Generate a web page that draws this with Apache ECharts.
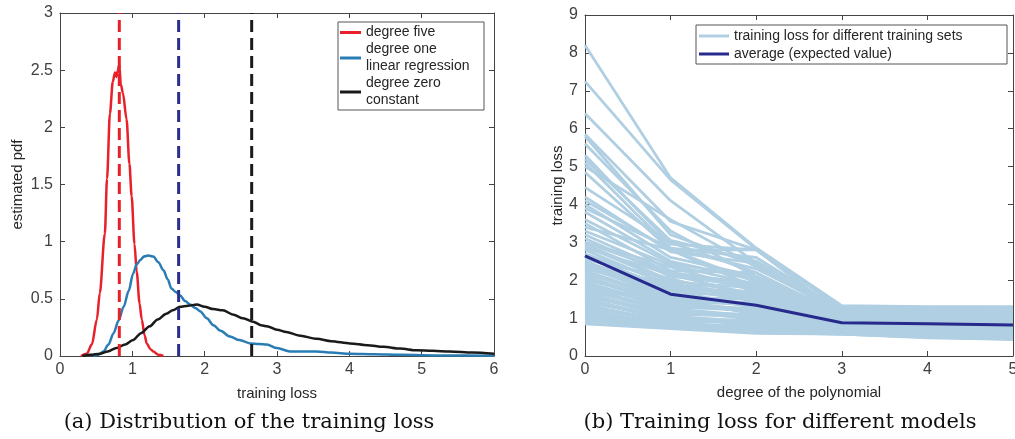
<!DOCTYPE html>
<html>
<head>
<meta charset="utf-8">
<script src="https://cdn.jsdelivr.net/npm/echarts@6/dist/echarts.min.js"></script>
<style>
html, body { margin: 0; padding: 0; background: #fff; }
#chart { width: 1015px; height: 439px; }
</style>
</head>
<body>
<div id="chart"></div>
<script>
// (a) estimated pdf of training loss, [loss, density]
const degreeFive = [[0.29,0],[0.37,0.02],[0.44,0.10],[0.51,0.32],[0.55,0.55],[0.62,1.07],[0.65,1.55],[0.69,2.12],[0.73,2.40],[0.76,2.48],[0.78,2.44],[0.80,2.50],[0.82,2.55],[0.84,2.38],[0.87,2.30],[0.92,2.07],[0.96,1.68],[0.99,1.40],[1.03,0.98],[1.06,0.74],[1.10,0.46],[1.13,0.32],[1.17,0.18],[1.20,0.11],[1.25,0.06],[1.29,0.04],[1.36,0.01],[1.43,0]];
const degreeOne = [[0.46,0],[0.53,0.01],[0.60,0.04],[0.67,0.10],[0.74,0.20],[0.81,0.31],[0.88,0.43],[0.95,0.57],[1.01,0.72],[1.06,0.80],[1.11,0.84],[1.16,0.87],[1.22,0.88],[1.29,0.87],[1.36,0.82],[1.43,0.75],[1.49,0.67],[1.54,0.59],[1.60,0.56],[1.66,0.53],[1.73,0.48],[1.80,0.45],[1.87,0.42],[1.94,0.39],[2.03,0.33],[2.12,0.27],[2.22,0.22],[2.35,0.17],[2.48,0.14],[2.63,0.11],[2.75,0.105],[2.86,0.10],[3.0,0.07],[3.18,0.04],[3.35,0.04],[3.55,0.04],[3.75,0.03],[4.01,0.02],[4.35,0.015],[4.70,0.01],[5.3,0.005],[6.0,0.003]];
const degreeZero = [[0.31,0],[0.42,0.01],[0.55,0.02],[0.66,0.04],[0.78,0.07],[0.90,0.10],[1.01,0.14],[1.12,0.20],[1.24,0.26],[1.35,0.32],[1.47,0.37],[1.56,0.40],[1.66,0.43],[1.77,0.44],[1.89,0.45],[2.0,0.43],[2.12,0.41],[2.25,0.40],[2.40,0.36],[2.53,0.33],[2.67,0.30],[2.78,0.27],[2.86,0.26],[3.0,0.23],[3.13,0.21],[3.3,0.18],[3.55,0.15],[3.75,0.13],[4.01,0.11],[4.25,0.095],[4.47,0.08],[4.7,0.065],[4.93,0.05],[5.15,0.045],[5.39,0.04],[5.7,0.03],[6.0,0.02]];
const meanLoss = [0.82, 1.64, 2.65];

// (b) training loss per polynomial degree 0..5
const degrees = [0, 1, 2, 3, 4, 5];
const averageLoss = [2.64, 1.63, 1.34, 0.88, 0.85, 0.82];
const lossSets = [
  [8.20,4.70,2.85,1.33,1.30,1.30],
  [7.25,4.65,2.82,1.30,1.28,1.28],
  [6.40,4.10,2.45,1.28,1.20,1.18],
  [5.85,3.55,2.80,1.25,1.18,1.15],
  [5.80,3.20,2.40,1.20,1.12,1.10],
  [5.60,3.30,2.10,1.15,1.10,1.08],
  [5.30,2.95,2.80,1.30,1.22,1.20],
  [5.20,3.05,2.50,1.22,1.15,1.12],
  [5.10,2.85,2.30,1.18,1.10,1.05],
  [5.00,3.60,2.35,1.12,1.05,1.02],
  [4.85,2.80,2.80,1.10,1.02,1.00],
  [4.45,3.00,2.20,1.08,1.00,0.98],
  [4.20,2.75,2.45,1.15,1.08,1.05],
  [4.10,2.80,1.95,1.05,0.98,0.95],
  [4.00,2.60,2.10,1.10,1.02,1.00],
  [3.90,2.85,2.60,1.20,1.12,1.10],
  [3.80,2.50,2.00,1.02,0.95,0.92],
  [3.60,2.45,2.05,1.08,1.00,0.96],
  [3.50,2.25,2.20,1.00,0.92,0.90],
  [3.40,2.80,1.80,0.98,0.90,0.88],
  [3.30,2.40,1.90,1.05,0.98,0.95],
  [3.20,2.20,1.75,0.95,0.88,0.85],
  [3.10,2.10,1.85,1.00,0.92,0.90],
  [3.00,2.35,1.70,0.92,0.85,0.82],
  [3.00,2.20,1.90,1.22,1.20,1.20],
  [2.95,2.00,1.65,0.95,0.88,0.85],
  [2.90,1.95,1.80,0.90,0.82,0.80],
  [2.85,2.15,1.60,0.88,0.80,0.78],
  [2.80,1.85,1.55,0.92,0.85,0.82],
  [2.70,1.90,1.50,0.85,0.78,0.75],
  [2.65,1.75,1.70,0.90,0.82,0.80],
  [2.60,1.80,1.45,0.82,0.75,0.72],
  [2.55,2.05,1.40,0.88,0.80,0.78],
  [2.50,1.70,1.55,0.80,0.72,0.70],
  [2.45,1.65,1.35,0.85,0.78,0.75],
  [2.40,1.90,1.60,1.18,1.18,1.17],
  [2.40,1.60,1.30,0.78,0.70,0.68],
  [2.35,1.55,1.50,0.82,0.75,0.72],
  [2.30,1.75,1.25,0.80,0.72,0.70],
  [2.25,1.50,1.40,0.76,0.68,0.65],
  [2.20,1.45,1.20,0.85,0.78,0.75],
  [2.15,1.60,1.30,0.78,0.70,0.68],
  [2.10,1.40,1.15,0.74,0.66,0.62],
  [2.05,1.35,1.25,0.80,0.72,0.70],
  [2.00,1.50,1.10,0.72,0.65,0.60],
  [1.95,1.30,1.20,0.76,0.68,0.65],
  [1.90,1.25,1.05,0.70,0.62,0.58],
  [1.85,1.40,1.15,0.82,0.74,0.72],
  [1.80,1.20,1.00,0.68,0.60,0.56],
  [1.75,1.45,1.35,1.12,1.10,1.10],
  [1.75,1.15,1.10,0.74,0.66,0.62],
  [1.70,1.25,0.95,0.66,0.58,0.54],
  [1.65,1.10,1.05,0.72,0.64,0.60],
  [1.60,1.05,0.90,0.70,0.62,0.58],
  [1.55,1.15,1.00,0.64,0.56,0.52],
  [1.50,1.00,0.85,0.68,0.60,0.56],
  [1.45,0.95,0.95,0.75,0.67,0.63],
  [1.40,1.05,0.80,0.62,0.55,0.50],
  [1.35,0.90,0.90,0.66,0.58,0.54],
  [1.30,0.88,0.75,0.64,0.56,0.52],
  [1.25,0.95,0.85,0.70,0.62,0.58],
  [1.20,0.85,0.72,0.60,0.52,0.48],
  [1.15,0.82,0.80,0.66,0.58,0.54],
  [1.10,0.80,0.70,0.62,0.54,0.50],
  [1.05,0.85,0.68,0.60,0.52,0.46],
  [1.00,0.78,0.65,0.58,0.50,0.45],
  [0.95,0.76,0.64,0.62,0.55,0.50],
  [0.90,0.74,0.62,0.58,0.50,0.44],
  [0.85,0.72,0.60,0.58,0.48,0.44]
];

const axisColor = '#444';
const labelColor = '#404040';
const font = 'Liberation Sans, Arial, sans-serif';
const serif = '21px "DejaVu Serif", "Liberation Serif", serif';
const setName = 'training loss for different training sets';
const avgName = 'average (expected value)';

function boxAxis(gridIndex, min, max, interval, position, name, nameGap) {
  const main = position === 'bottom' || position === 'left';
  return {
    type: 'value', gridIndex, min, max, interval, position,
    name: main ? name : '',
    nameLocation: 'middle', nameGap,
    nameTextStyle: { color: '#262626', fontSize: 15, fontFamily: font },
    axisLine: { show: true, onZero: false, lineStyle: { color: axisColor, width: 1 } },
    axisTick: { show: true, inside: true, length: 5, lineStyle: { color: axisColor } },
    axisLabel: { show: main, color: labelColor, fontSize: 16, fontFamily: font, margin: position === 'bottom' ? 6 : 7 },
    splitLine: { show: false }
  };
}

const chart = echarts.init(document.getElementById('chart'));

const series = [
  { name: 'degree five', type: 'line', xAxisIndex: 0, yAxisIndex: 0, data: degreeFive, smooth: 0.3, smoothMonotone: 'x', showSymbol: false, lineStyle: { color: '#e8202a', width: 2.5 }, itemStyle: { color: '#e8202a' } },
  { name: 'degree one\nlinear regression', type: 'line', xAxisIndex: 0, yAxisIndex: 0, data: degreeOne, smooth: 0.3, smoothMonotone: 'x', showSymbol: false, lineStyle: { color: '#2a7db4', width: 2.5 }, itemStyle: { color: '#2a7db4' } },
  { name: 'degree zero\nconstant', type: 'line', xAxisIndex: 0, yAxisIndex: 0, data: degreeZero, smooth: 0.3, smoothMonotone: 'x', showSymbol: false, lineStyle: { color: '#1a1a1a', width: 2.5 }, itemStyle: { color: '#1a1a1a' } }
];
const dashColors = ['#e8202a', '#2c2e8e', '#1a1a1a'];
meanLoss.forEach((m, i) => {
  series.push({ type: 'line', xAxisIndex: 0, yAxisIndex: 0, data: [[m, 0], [m, 3]], showSymbol: false, silent: true,
    lineStyle: { color: dashColors[i], width: 3, type: [12, 6] } });
});
lossSets.forEach(row => {
  series.push({ name: setName, type: 'line', xAxisIndex: 2, yAxisIndex: 2, data: degrees.map((d, i) => [d, row[i]]),
    showSymbol: false, lineStyle: { color: '#b0cfe2', width: 2.8 }, itemStyle: { color: '#b0cfe2' } });
});
series.push({ name: avgName, type: 'line', xAxisIndex: 2, yAxisIndex: 2, data: degrees.map((d, i) => [d, averageLoss[i]]),
  showSymbol: false, z: 5, lineStyle: { color: '#262a8c', width: 3 }, itemStyle: { color: '#262a8c' } });

chart.setOption({
  animation: false,
  backgroundColor: '#fff',
  grid: [
    { left: 60, right: 521, top: 13, bottom: 83, outerBoundsMode: 'none', containLabel: false },
    { left: 585, right: 2, top: 15, bottom: 83, outerBoundsMode: 'none', containLabel: false }
  ],
  xAxis: [
    boxAxis(0, 0, 6, 1, 'bottom', 'training loss', 30),
    boxAxis(0, 0, 6, 1, 'top', '', 0),
    boxAxis(1, 0, 5, 1, 'bottom', 'degree of the polynomial', 29),
    boxAxis(1, 0, 5, 1, 'top', '', 0)
  ],
  yAxis: [
    boxAxis(0, 0, 3, 0.5, 'left', 'estimated pdf', 35),
    boxAxis(0, 0, 3, 0.5, 'right', '', 0),
    boxAxis(1, 0, 9, 1, 'left', 'training loss', 20),
    boxAxis(1, 0, 9, 1, 'right', '', 0)
  ],
  legend: [
    { data: ['degree five', 'degree one\nlinear regression', 'degree zero\nconstant'], orient: 'vertical', left: 340, top: 24,
      icon: 'rect', itemWidth: 21, itemHeight: 3, itemGap: 0, padding: 0, selectedMode: false,
      textStyle: { color: '#262626', fontSize: 14, lineHeight: 17, fontFamily: font } },
    { data: [setName, avgName], orient: 'vertical', left: 699, top: 27,
      icon: 'rect', itemWidth: 30, itemHeight: 3, itemGap: 0, padding: 0, selectedMode: false,
      textStyle: { color: '#262626', fontSize: 14, lineHeight: 18, fontFamily: font } }
  ],
  graphic: [
    { type: 'rect', shape: { x: 338, y: 22, width: 146, height: 88 }, style: { fill: 'none', stroke: '#555', lineWidth: 1 }, z: 10 },
    { type: 'rect', shape: { x: 696, y: 25, width: 311, height: 39 }, style: { fill: 'none', stroke: '#555', lineWidth: 1 }, z: 10 },
    { type: 'text', x: 249, y: 423, style: { text: '(a) Distribution of the training loss', fill: '#111', font: serif, textAlign: 'center', textVerticalAlign: 'middle' } },
    { type: 'text', x: 780, y: 423, style: { text: '(b) Training loss for different models', fill: '#111', font: serif, textAlign: 'center', textVerticalAlign: 'middle' } }
  ],
  series
});
</script>
</body>
</html>
